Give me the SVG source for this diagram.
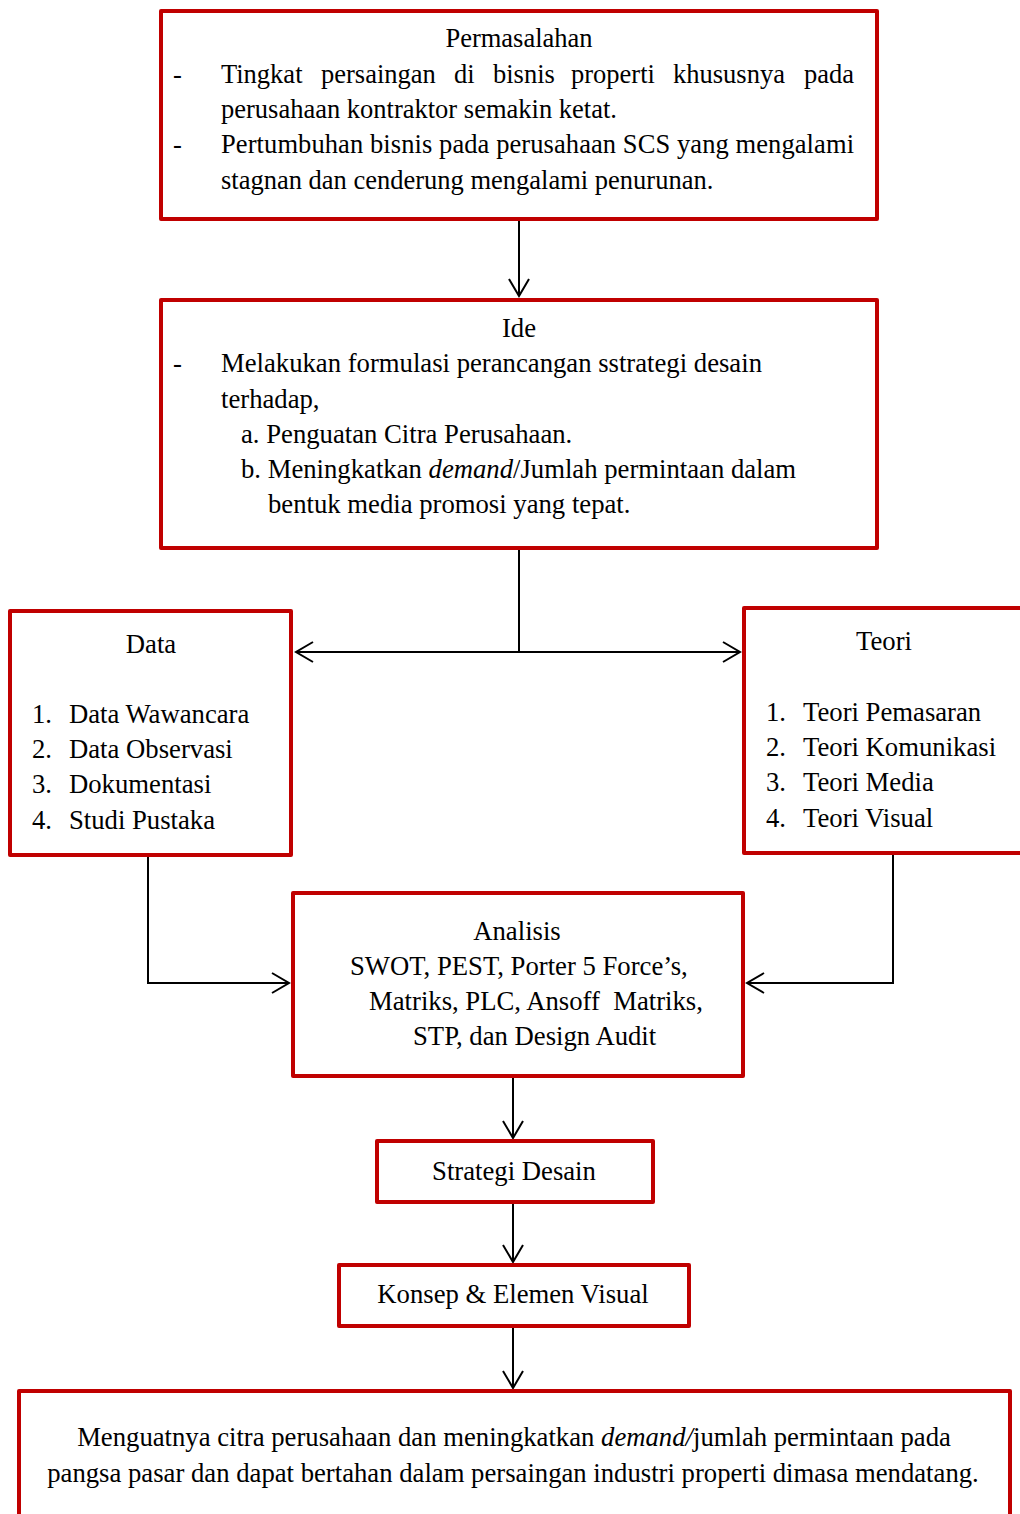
<svg xmlns="http://www.w3.org/2000/svg" width="1020" height="1514" viewBox="0 0 1020 1514">
<defs>
<style>
.box{fill:#fff;stroke:#C00000;stroke-width:4;stroke-linejoin:round}
.t{font-family:"Liberation Serif","Times New Roman",serif;font-size:26.7px;fill:#000}
.s{font-size:26.5px}
.c{text-anchor:middle}
.conn{fill:none;stroke:#000;stroke-width:2}
</style>
<marker id="arr" markerUnits="userSpaceOnUse" markerWidth="22" markerHeight="24" viewBox="-19 -12 22 24" refX="0" refY="0" orient="auto-start-reverse">
<path d="M-17,-10 L0,0 L-17,10" fill="none" stroke="#000" stroke-width="2"/>
</marker>
</defs>
<rect width="1020" height="1514" fill="#fff"/>
<g id="connectors">
<path class="conn" d="M519,221 V296" marker-end="url(#arr)"/>
<path class="conn" d="M519,549 V652"/>
<path class="conn" d="M296,652 H740" marker-start="url(#arr)" marker-end="url(#arr)"/>
<path class="conn" d="M148,856 V983 H289" marker-end="url(#arr)"/>
<path class="conn" d="M893,854 V983 H747" marker-end="url(#arr)"/>
<path class="conn" d="M513,1078 V1138" marker-end="url(#arr)"/>
<path class="conn" d="M513,1204 V1262" marker-end="url(#arr)"/>
<path class="conn" d="M513,1328 V1388" marker-end="url(#arr)"/>
</g>
<g id="permasalahan">
<rect class="box" x="161" y="11" width="716" height="208"/>
<text class="t s c" x="519" y="47">Permasalahan</text>
<text class="t s" x="173" y="83">-</text>
<text class="t s" y="83"><tspan x="221">Tingkat</tspan><tspan x="321">persaingan</tspan><tspan x="454">di</tspan><tspan x="493">bisnis</tspan><tspan x="571">properti</tspan><tspan x="673">khususnya</tspan><tspan x="804">pada</tspan></text>
<text class="t s" x="221" y="118">perusahaan kontraktor semakin ketat.</text>
<text class="t s" x="173" y="153">-</text>
<text class="t s" x="221" y="153" textLength="633" lengthAdjust="spacing">Pertumbuhan bisnis pada perusahaan SCS yang mengalami</text>
<text class="t s" x="221" y="189">stagnan dan cenderung mengalami penurunan.</text>
</g>
<g id="ide">
<rect class="box" x="161" y="300" width="716" height="248"/>
<text class="t c" x="519" y="337">Ide</text>
<text class="t" x="173" y="372">-</text>
<text class="t" x="221" y="372">Melakukan formulasi perancangan sstrategi desain</text>
<text class="t" x="221" y="408">terhadap,</text>
<text class="t" x="241" y="443">a. Penguatan Citra Perusahaan.</text>
<text class="t" x="241" y="478">b. Meningkatkan <tspan font-style="italic">demand</tspan>/Jumlah permintaan dalam</text>
<text class="t" x="268" y="513">bentuk media promosi yang tepat.</text>
</g>
<g id="data">
<rect class="box" x="10" y="611" width="281" height="244"/>
<text class="t c" x="151" y="653">Data</text>
<text class="t" x="32" y="723">1.</text><text class="t" x="69" y="723">Data Wawancara</text>
<text class="t" x="32" y="758">2.</text><text class="t" x="69" y="758">Data Observasi</text>
<text class="t" x="32" y="793">3.</text><text class="t" x="69" y="793">Dokumentasi</text>
<text class="t" x="32" y="829">4.</text><text class="t" x="69" y="829">Studi Pustaka</text>
</g>
<g id="teori">
<rect class="box" x="744" y="608" width="290" height="245"/>
<text class="t c" x="884" y="650">Teori</text>
<text class="t" x="766" y="721">1.</text><text class="t" x="803" y="721">Teori Pemasaran</text>
<text class="t" x="766" y="756">2.</text><text class="t" x="803" y="756">Teori Komunikasi</text>
<text class="t" x="766" y="791">3.</text><text class="t" x="803" y="791">Teori Media</text>
<text class="t" x="766" y="827">4.</text><text class="t" x="803" y="827">Teori Visual</text>
</g>
<g id="analisis">
<rect class="box" x="293" y="893" width="450" height="183"/>
<text class="t c" x="517" y="940">Analisis</text>
<text class="t" x="350" y="975">SWOT, PEST, Porter 5 Force’s,</text>
<text class="t" x="369" y="1010" xml:space="preserve">Matriks, PLC, Ansoff  Matriks,</text>
<text class="t" x="413" y="1045">STP, dan Design Audit</text>
</g>
<g id="strategi">
<rect class="box" x="377" y="1141" width="276" height="61"/>
<text class="t c" x="514" y="1180">Strategi Desain</text>
</g>
<g id="konsep">
<rect class="box" x="339" y="1265" width="350" height="61"/>
<text class="t c" x="513" y="1303">Konsep &amp; Elemen Visual</text>
</g>
<g id="hasil">
<rect class="box" x="19" y="1391" width="991" height="135"/>
<text class="t c" x="514" y="1446">Menguatnya citra perusahaan dan meningkatkan <tspan font-style="italic">demand/</tspan>jumlah permintaan pada</text>
<text class="t c" x="513" y="1482">pangsa pasar dan dapat bertahan dalam persaingan industri properti dimasa mendatang.</text>
</g>
</svg>
